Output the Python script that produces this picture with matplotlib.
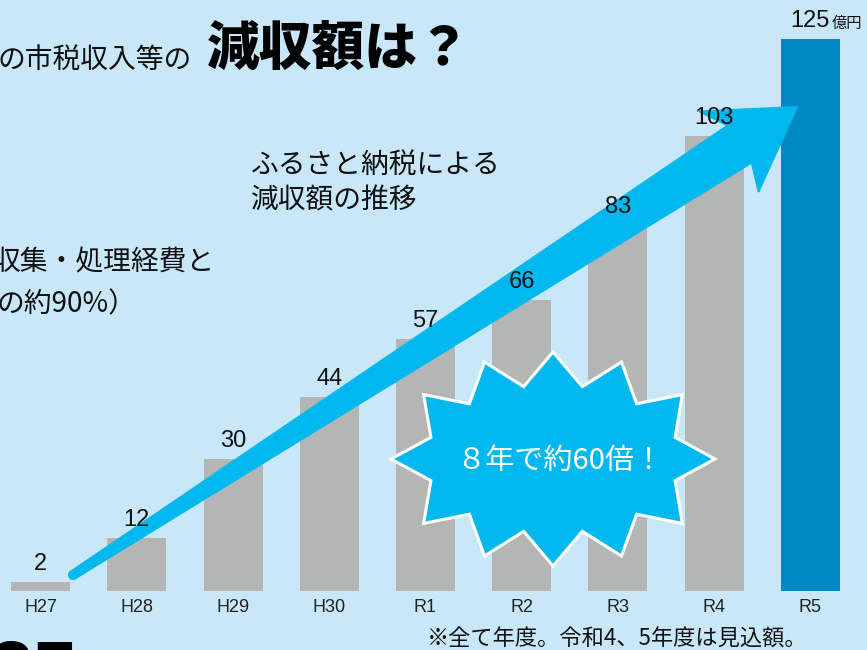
import numpy as np
import matplotlib
matplotlib.use("Agg")
import matplotlib.pyplot as plt
from matplotlib.patches import Polygon

# ---- data ----
years = ["H27", "H28", "H29", "H30", "R1", "R2", "R3", "R4", "R5"]
values = [2, 12, 30, 44, 57, 66, 83, 103, 125]
unit = "億円"
title_pre = "の市税収入等の"
title_main = "減収額は？"
series_label = ["ふるさと納税による", "減収額の推移"]
side_lines = ["収集・処理経費と", "の約90%）"]
burst_text = "８年で約60倍！"
footnote = "※全て年度。令和4、5年度は見込額。"

BG = "#C8E7F9"
GRAY = "#B4B5B5"
BLUE = "#0088C4"
CYAN = "#00B8EE"
CJK = ["Noto Sans CJK JP", "DejaVu Sans"]
NUM = ["Liberation Sans", "DejaVu Sans"]

W, H = 867, 650
fig = plt.figure(figsize=(W / 100, H / 100), dpi=100, facecolor=BG)

# ---- bar axes ----
base_px, top_px = 591, 39
ax = fig.add_axes([0, (H - base_px) / H, 1, (base_px - top_px) / H])
ax.set_facecolor("none")
step, x0 = 96.2, 40.6
ax.set_xlim(-x0 / step, (W - x0) / step)
ax.set_ylim(0, max(values))
x = np.arange(len(years))
colors = [GRAY] * (len(years) - 1) + [BLUE]
ax.bar(x, values, width=59 / step, color=colors, zorder=2)
ax.set_xticks(x)
ax.set_xticklabels(years, fontsize=13, family=NUM, color="#222222")
ax.tick_params(axis="x", length=0, pad=6)
ax.set_yticks([])
for s in ax.spines.values():
    s.set_visible(False)

# ---- overlay in pixel coordinates ----
ov = fig.add_axes([0, 0, 1, 1])
ov.set_xlim(0, W)
ov.set_ylim(H, 0)
ov.axis("off")
ov.patch.set_alpha(0)

# arrow (tapered)
T = np.array([73.0, 575.0])
P = np.array([797.0, 107.0])
L = np.linalg.norm(P - T)
u = (P - T) / L
p = np.array([-u[1], u[0]])
def pt(s, q):
    return T + u * s + p * q
cap = [pt(-4 * np.sin(t), 4 * np.cos(t)) for t in np.linspace(0, np.pi, 12)]
arrow_pts = [pt(794, 22)] + cap + [pt(794, -22), pt(778, -49), pt(L, 0), pt(784, 50)]
ov.add_patch(Polygon(arrow_pts, closed=True, facecolor=CYAN, edgecolor=CYAN,
                     lw=1.5, joinstyle="round", zorder=3))

# starburst
cx, cy, rx, ry = 553, 459, 162, 107
outer = [0, 37, 65, 90, 115, 143, 180, 217, 245, 270, 295, 323]
inner = [15, 45, 75, 105, 135, 165, 195, 225, 255, 285, 315, 345]
inner_r = [0.78, 0.73, 0.70, 0.70, 0.73, 0.78, 0.78, 0.73, 0.70, 0.70, 0.73, 0.78]
star = []
for a_o, a_i, r_i in zip(outer, inner, inner_r):
    for a, r in ((a_o, 1.0), (a_i, r_i)):
        t = np.deg2rad(a)
        star.append((cx + rx * r * np.cos(t), cy - ry * r * np.sin(t)))
ov.add_patch(Polygon(star, closed=True, facecolor=CYAN, edgecolor="white",
                     lw=2.2, joinstyle="miter", zorder=4))
ov.text(560, 461, burst_text, ha="center", va="center", fontsize=21,
        family=CJK, color="white", zorder=5)

# value labels (anchored to the bar data, drawn above the decorations)
for xi, v in zip(x, values):
    ov.annotate(str(v), xy=(xi, v), xycoords=ax.transData, xytext=(0, 8.5),
                textcoords="offset points", ha="center", va="baseline",
                fontsize=17, family=NUM, color="#111111", zorder=6,
                annotation_clip=False)

# texts
ov.text(-2, 60, title_pre, ha="left", va="center", fontsize=20, family=CJK, color="#111111")
ov.text(207, 50, title_main, ha="left", va="center", fontsize=38, family=CJK,
        weight="heavy", color="black")
ov.text(251, 165, series_label[0], ha="left", va="center", fontsize=20, family=CJK, color="#111111")
ov.text(251, 200, series_label[1], ha="left", va="center", fontsize=20, family=CJK, color="#111111")
ov.text(214, 262, side_lines[0], ha="right", va="center", fontsize=20, family=CJK, color="#111111")
ov.text(-3, 304, side_lines[1], ha="left", va="center", fontsize=20, family=CJK, color="#111111")
ov.text(832, 28, unit, ha="left", va="baseline", fontsize=11, family=CJK, color="#111111")
ov.text(427, 639, footnote, ha="left", va="center", fontsize=16, family=CJK, color="#111111")
ov.text(-12, 698, "25", ha="left", va="baseline", fontsize=58, family=NUM,
        weight="bold", color="black")

fig.savefig("out.png", dpi=100, facecolor=BG)
